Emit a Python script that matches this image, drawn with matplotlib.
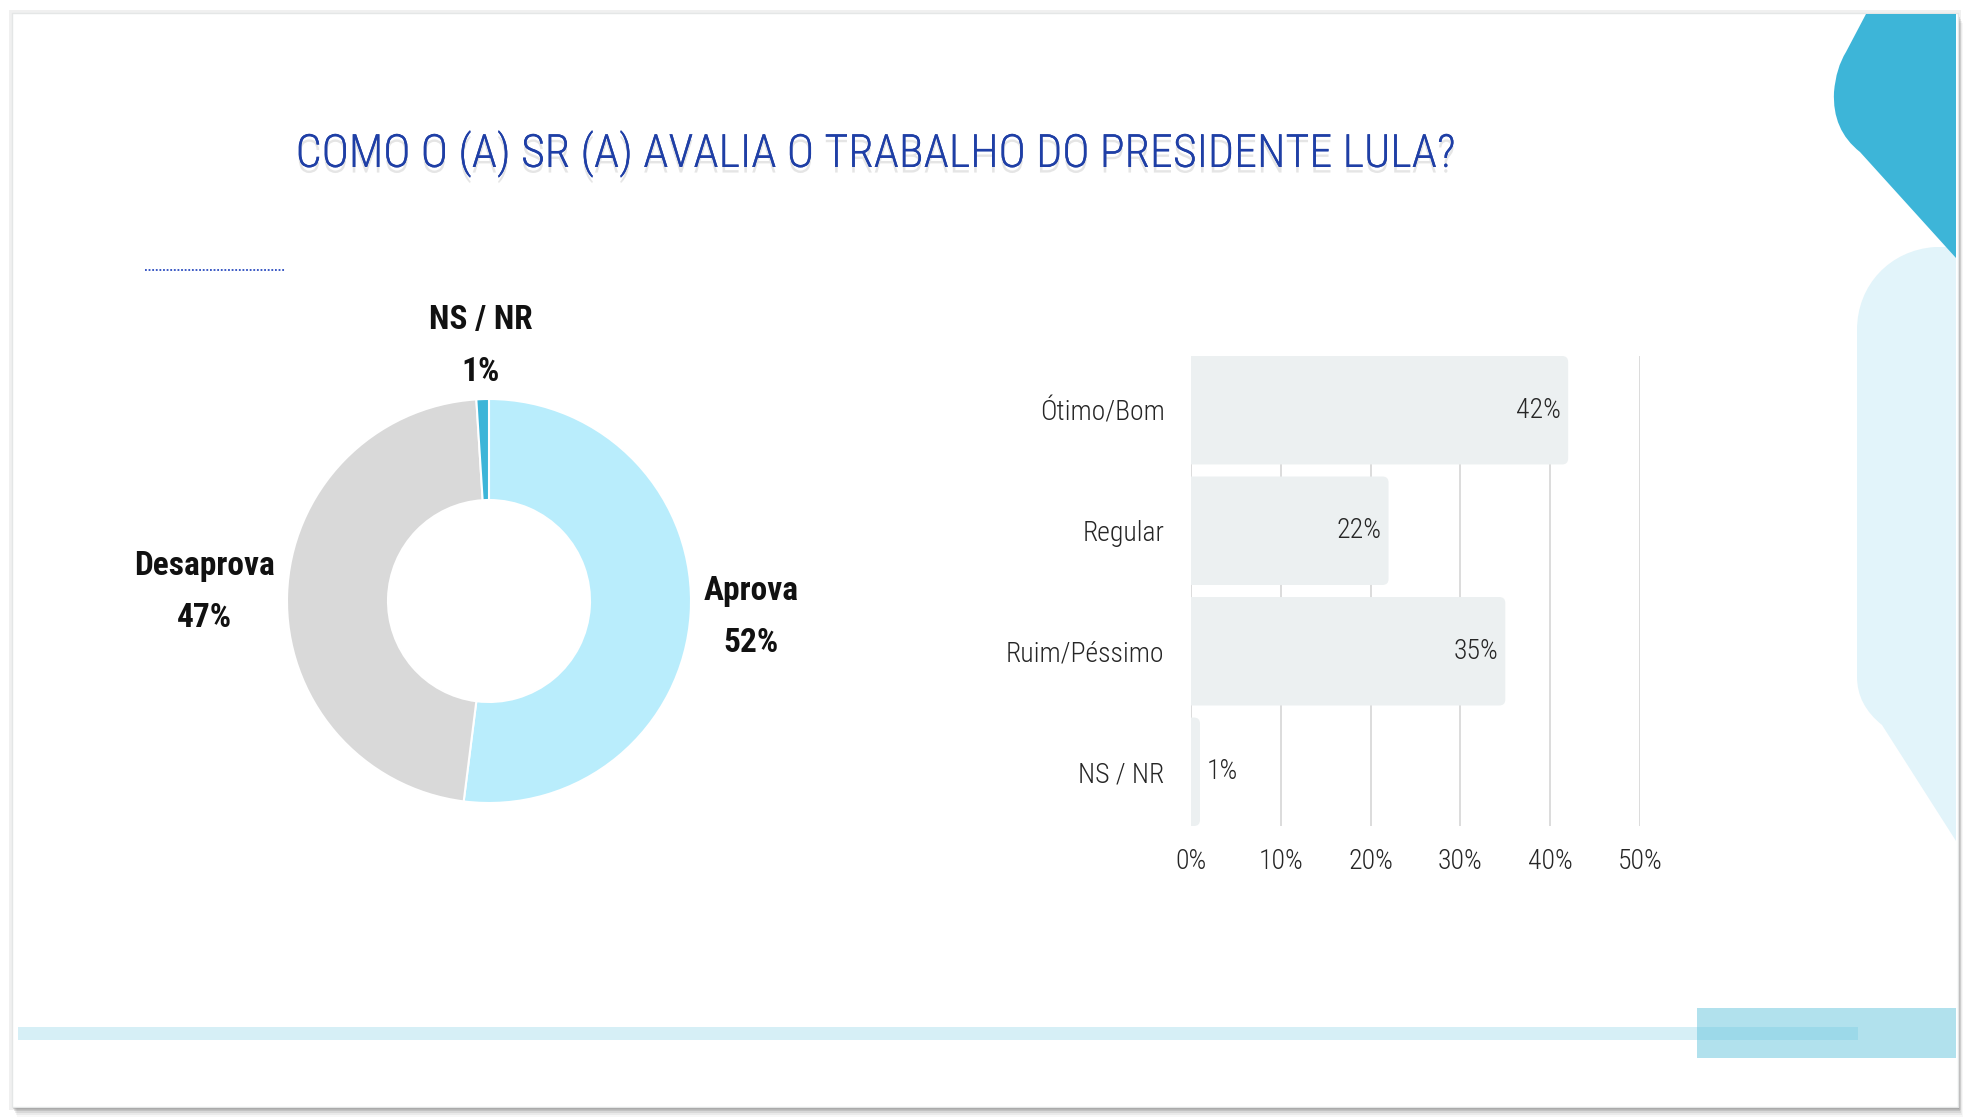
import os
import numpy as np
import matplotlib
matplotlib.use("Agg")
import matplotlib.pyplot as plt
from matplotlib import font_manager as fm
from matplotlib.patches import Rectangle, FancyBboxPatch, PathPatch
from matplotlib.path import Path
import matplotlib.patheffects as pe

# ---------------- data ----------------
title = "COMO O (A) SR (A) AVALIA O TRABALHO DO PRESIDENTE LULA?"
pie_labels = ["Aprova", "Desaprova", "NS / NR"]
pie_values = [52, 47, 1]
pie_colors = ["#b9edfc", "#d9d9d9", "#3db5d8"]
bar_categories = ["Ótimo/Bom", "Regular", "Ruim/Péssimo", "NS / NR"]
bar_values = [42, 22, 35, 1]
bar_ticks = [0, 10, 20, 30, 40, 50]

# ---------------- fonts ----------------
_files = {os.path.basename(f.fname).lower(): f.fname for f in fm.fontManager.ttflist}


def pick(cands):
    for c in cands:
        if c.lower() in _files:
            return _files[c.lower()]
    return None


LIGHT = pick(["RobotoCondensed-Light.ttf", "RobotoCondensed-Regular.ttf",
              "LiberationSansNarrow-Regular.ttf", "DejaVuSansCondensed.ttf"])
REG = pick(["RobotoCondensed-Regular.ttf", "LiberationSansNarrow-Regular.ttf",
            "DejaVuSansCondensed.ttf"])
BOLD = pick(["RobotoCondensed-Bold.ttf", "LiberationSansNarrow-Bold.ttf",
             "DejaVuSansCondensed-Bold.ttf"])


def fp(kind="reg", size=12):
    path = {"light": LIGHT, "reg": REG, "bold": BOLD}[kind]
    if path:
        return fm.FontProperties(fname=path, size=size)
    return fm.FontProperties(family=["Roboto", "DejaVu Sans"],
                             weight="bold" if kind == "bold" else "normal", size=size)


# ---------------- figure / background ----------------
W, H = 1972, 1120
fig = plt.figure(figsize=(W / 100, H / 100), dpi=100, facecolor="white")
bg = fig.add_axes([0, 0, 1, 1])
bg.set_xlim(0, W)
bg.set_ylim(H, 0)
bg.axis("off")

# slide shadow
bg.add_patch(Rectangle((9, 10), 1952, 1100, fc="#000000", alpha=0.06, lw=0))
for dx, dy, a in [(1, 2, 0.14), (2, 4, 0.10), (3, 6, 0.07), (4, 8, 0.05), (5, 10, 0.03)]:
    bg.add_patch(Rectangle((12 + dx, 13 + dy), 1946, 1094, fc="#000000", alpha=a, lw=0))
bg.add_patch(Rectangle((12, 13), 1946, 1094, fc="white", ec="#e4e6e6", lw=1.0))

# right light-blue shape
light = Path([(1956, 247), (1935, 247),
              (1890, 250), (1857, 285), (1857, 330),
              (1857, 677),
              (1857, 705), (1882, 725),
              (1956, 841), (1956, 247)],
             [Path.MOVETO, Path.LINETO,
              Path.CURVE4, Path.CURVE4, Path.CURVE4,
              Path.LINETO,
              Path.CURVE3, Path.CURVE3,
              Path.LINETO, Path.CLOSEPOLY])
bg.add_patch(PathPatch(light, fc="#e2f4fa", ec="none"))

# top-right teal shape (drawn over the light one)
teal = Path([(1866, 14), (1956, 14), (1956, 258), (1860, 152),
             (1832, 130), (1834, 92),
             (1836, 68), (1846, 52), (1866, 14)],
            [Path.MOVETO, Path.LINETO, Path.LINETO, Path.LINETO,
             Path.CURVE3, Path.CURVE3,
             Path.CURVE3, Path.CURVE3, Path.CLOSEPOLY])
bg.add_patch(PathPatch(teal, fc="#3db5d8", ec="none"))

# bottom decoration
bg.add_patch(Rectangle((1697, 1008), 259, 50, fc="#b1e1ed", ec="none"))
bg.add_patch(Rectangle((18, 1027), 1840, 13, fc="#5fc3df", alpha=0.25, ec="none"))

# small dotted line
bg.plot([145, 285], [270, 270], color="#2a4bbf", lw=1.3, ls=(0, (1, 1)))

# title
t = bg.text(875, 167, title, ha="center", va="baseline", color="#1f3fa6",
            fontproperties=fp("light", 40),
            path_effects=[pe.withSimplePatchShadow(offset=(0, -4), shadow_rgbFace="#9a9a9a",
                                                   alpha=0.25), pe.Normal()])
fig.canvas.draw()
bb = t.get_window_extent()
t.set_fontsize(min(44, 40 * 1159 / bb.width))

# ---------------- donut ----------------
cx, cy, r = 489, 601, 202
axp = fig.add_axes([(cx - r) / W, (H - cy - r) / H, 2 * r / W, 2 * r / H])
wedges, _ = axp.pie(pie_values, colors=pie_colors, startangle=90, counterclock=False,
                    wedgeprops=dict(width=0.5, edgecolor="white", linewidth=1.5))
axp.set_xlim(-1, 1)
axp.set_ylim(-1, 1)
axp.set_aspect("equal")
axp.axis("off")
label_dist = [1.30, 1.41, 1.265]
for w, lab, val, d in zip(wedges, pie_labels, pie_values, label_dist):
    th = np.deg2rad((w.theta1 + w.theta2) / 2)
    axp.text(d * np.cos(th), d * np.sin(th), f"{lab}\n{val}%", ha="center", va="center",
             linespacing=1.8, color="#111111", fontproperties=fp("bold", 24))

# ---------------- bars ----------------
left, right, top, bottom = 1191, 1640, 356, 826
axb = fig.add_axes([left / W, (H - bottom) / H, (right - left) / W, (bottom - top) / H])
ypos = np.arange(len(bar_categories))
bars = axb.barh(ypos, bar_values, height=0.9, color="#ecf0f1")
axb.set_xlim(0, 50)
axb.set_ylim(3.45, -0.45)
xr = 50 / (right - left)
yr = 3.9 / (bottom - top)
for b in bars:
    x0, y0, bw, bh = b.get_x(), b.get_y(), b.get_width(), b.get_height()
    b.set_visible(False)
    axb.add_patch(FancyBboxPatch((x0 - 2, y0), bw + 2, bh,
                                 boxstyle=f"round,pad=0,rounding_size={6 * xr}",
                                 mutation_aspect=yr / xr, fc="#ecf0f1", ec="none"))
axb.set_xticks(bar_ticks)
axb.set_xticklabels([f"{v}%" for v in bar_ticks])
axb.set_yticks(ypos)
axb.set_yticklabels(bar_categories)
axb.grid(axis="x", color="#d9d9d9", lw=1.3)
axb.set_axisbelow(True)
for s in axb.spines.values():
    s.set_visible(False)
axb.tick_params(axis="both", length=0)
axb.tick_params(axis="x", pad=16)
axb.tick_params(axis="y", pad=19)
for lab in axb.get_xticklabels() + axb.get_yticklabels():
    lab.set_fontproperties(fp("light", 20))
    lab.set_color("#262626")
for i, v in enumerate(bar_values):
    if v >= 5:
        axb.annotate(f"{v}%", (v, i), xytext=(-5, 0), textcoords="offset points",
                     ha="right", va="center", color="#262626", fontproperties=fp("light", 20))
    else:
        axb.annotate(f"{v}%", (v, i), xytext=(5, 0), textcoords="offset points",
                     ha="left", va="center", color="#262626", fontproperties=fp("light", 20))

fig.savefig("out.png", dpi=100, facecolor="white")
